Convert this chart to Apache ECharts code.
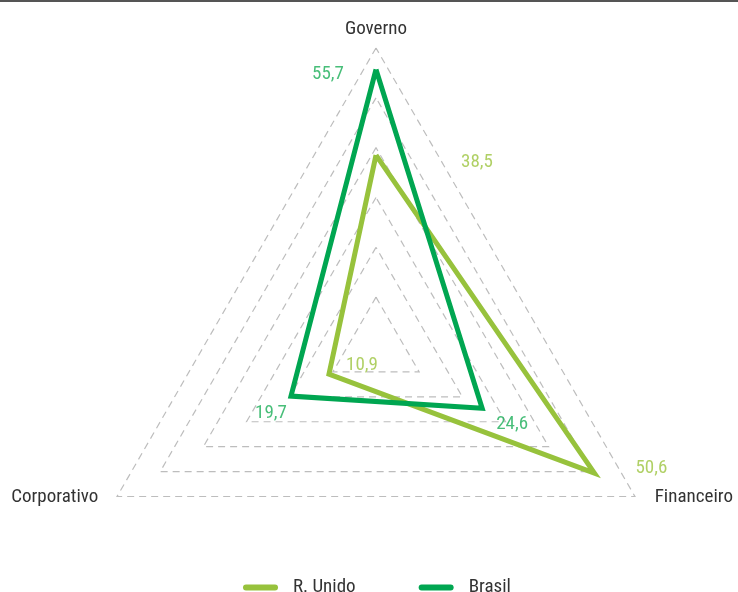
<!DOCTYPE html>
<html>
<head>
<meta charset="utf-8">
<script src="https://cdn.jsdelivr.net/npm/echarts@6/dist/echarts.min.js"></script>
<style>
html,body{margin:0;padding:0;background:#fff;}
#c{width:738px;height:592px;}
</style>
</head>
<body>
<div id="c"></div>
<script>
// ---- data ----
const indicators = ['Governo', 'Corporativo', 'Financeiro'];
const seriesNames = ['R. Unido', 'Brasil'];
const ukValues = [38.5, 10.9, 50.6];
const brValues = [55.7, 19.7, 24.6];
const axisMax = 60;
const splitCount = 6;

// ---- styles ----
const FONT = '"Roboto Condensed", "Liberation Sans", sans-serif';
const lineColors = ['#97c23c', '#00a651'];
const labelColors = ['#9cc43e', '#1aae58'];
const labelOffsets = [
  [[101, 7], [33, -9], [57, -5]],
  [[-48, 5], [-20, 17], [30, 16]]
];
const nameRich = {
  n0: { padding: [0, 0, 0, 0] },
  n1: { padding: [0, 11, 8, 0] },
  n2: { padding: [0, 0, 8, 12] }
};
const center = [376, 347];
const radius = 299;

function decimal(v) { return String(v).replace('.', ','); }

const allValues = [ukValues, brValues];

const labelSeries = allValues.map(function (vals, s) {
  return {
    type: 'scatter',
    coordinateSystem: 'polar',
    symbolSize: 0,
    silent: true,
    z: 5,
    data: vals.map(function (v, i) {
      return {
        value: [v, i * 360 / indicators.length],
        label: {
          show: true,
          position: 'inside',
          offset: labelOffsets[s][i],
          formatter: decimal(v),
          color: labelColors[s],
          fontFamily: FONT,
          fontSize: 19
        }
      };
    })
  };
});

const chart = echarts.init(document.getElementById('c'));
chart.setOption({
  animation: false,
  backgroundColor: '#fff',
  graphic: [{
    type: 'rect',
    shape: { x: 0, y: 0, width: 738, height: 2 },
    style: { fill: '#555' }
  }],
  legend: {
    data: seriesNames,
    bottom: -10,
    left: 238,
    itemWidth: 35,
    itemHeight: 6,
    itemGap: 63,
    icon: 'path://M3,0 L32,0 A3,3 0 0 1 32,6 L3,6 A3,3 0 0 1 3,0 Z',
    textStyle: { fontFamily: FONT, fontSize: 19, color: '#333', padding: [0, 0, 0, 10] }
  },
  radar: {
    center: center,
    radius: radius,
    shape: 'polygon',
    splitNumber: splitCount,
    startAngle: 90,
    indicator: indicators.map(function (n) { return { name: n, max: axisMax, min: 0 }; }),
    axisName: {
      color: '#333', fontFamily: FONT, fontSize: 19,
      formatter: function (name) { return '{n' + indicators.indexOf(name) + '|' + name + '}'; },
      rich: nameRich
    },
    nameGap: 9,
    axisLine: { show: false },
    axisTick: { show: false },
    axisLabel: { show: false },
    splitArea: { show: false },
    splitLine: { lineStyle: { color: '#bdbdbd', type: [7, 5], width: 1.2 } }
  },
  polar: { center: center, radius: radius },
  angleAxis: { type: 'value', min: 0, max: 360, startAngle: 90, clockwise: false, show: false },
  radiusAxis: { type: 'value', min: 0, max: axisMax, show: false },
  series: [{
    type: 'radar',
    symbol: 'none',
    data: allValues.map(function (vals, s) {
      return {
        name: seriesNames[s],
        value: vals,
        itemStyle: { color: lineColors[s] },
        lineStyle: { color: lineColors[s], width: 5, join: 'miter', miterLimit: 20 }
      };
    })
  }].concat(labelSeries)
});
</script>
</body>
</html>
